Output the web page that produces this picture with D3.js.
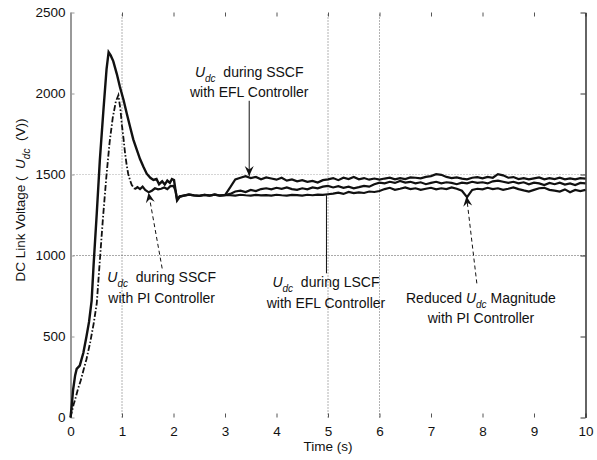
<!DOCTYPE html>
<html><head><meta charset="utf-8">
<script src="https://cdn.jsdelivr.net/npm/d3@7"></script>
<style>body{margin:0;background:#fff}svg{display:block;font-family:"Liberation Sans",Arial,sans-serif}</style>
</head><body><svg id="c" width="597" height="460"></svg>
<script>
// ---------- data ----------
const xTicks = [0,1,2,3,4,5,6,7,8,9,10];
const yTicks = [0,500,1000,1500,2000,2500];
const vGrid = [1,5,6];
const hGrid = [1000,1500];

// start-up transient shared by both EFL cases (t <= 3 s)
const tEFLStart = [0,0.02,0.05,0.09,0.12,0.18,0.25,0.31,0.36,0.41,0.45,0.51,0.57,0.64,0.70,0.74,0.78,0.83,0.90,0.96,1.03,1.09,1.16,1.22,1.29,1.35,1.42,1.48,1.55,1.61,1.67,1.72,1.78,1.83,1.88,1.93,1.97,2.01,2.04,2.07,2.12,2.2,2.3,2.4,2.5,2.6,2.7,2.8,2.9,3.0];
const vEFLStart = [0,60,170,260,300,320,400,500,590,720,950,1260,1590,1900,2150,2255,2235,2200,2120,2040,1960,1880,1790,1715,1650,1595,1545,1505,1480,1466,1472,1440,1458,1438,1462,1448,1472,1466,1400,1340,1362,1370,1376,1371,1368,1374,1370,1376,1370,1373];

// PI controller start-up transient (t <= 3 s)
const tPIStart = [0,0.03,0.06,0.09,0.14,0.2,0.25,0.31,0.38,0.45,0.51,0.57,0.63,0.70,0.76,0.82,0.88,0.93,0.97,1.0,1.03,1.06,1.09,1.12,1.16,1.19,1.25,1.3,1.35,1.4,1.45,1.52,1.58,1.64,1.7,1.76,1.82,1.88,1.94,2.0,2.04,2.07,2.12,2.2,2.3,2.4,2.5,2.6,2.7,2.8,2.9,3.0];
const vPIStart = [0,40,80,110,170,230,290,360,460,580,705,970,1230,1500,1700,1850,1950,1990,1900,1800,1720,1630,1560,1505,1460,1435,1410,1422,1410,1425,1405,1390,1400,1415,1408,1412,1420,1410,1428,1430,1400,1345,1365,1370,1376,1371,1368,1374,1370,1376,1370,1373];

// after t = 3 s
const tPost = [3.0,3.1,3.2,3.3,3.4,3.5,3.6,3.7,3.8,3.9,4.0,4.1,4.2,4.3,4.4,4.5,4.6,4.7,4.8,4.9,5.0,5.1,5.2,5.3,5.4,5.5,5.6,5.7,5.8,5.9,6.0,6.1,6.2,6.3,6.4,6.5,6.6,6.7,6.8,6.9,7.0,7.1,7.2,7.3,7.4,7.5,7.6,7.7,7.8,7.9,8.0,8.1,8.2,8.3,8.4,8.5,8.6,8.7,8.8,8.9,9.0,9.1,9.2,9.3,9.4,9.5,9.6,9.7,9.8,9.9,10.0];
const vEFL_SSCF = [1373,1420,1470,1480,1490,1478,1485,1470,1482,1475,
  1468,1480,1462,1470,1458,1465,1455,1460,1450,1465,
  1470,1478,1465,1480,1472,1485,1470,1478,1468,1475,
  1468,1475,1480,1470,1478,1472,1482,1480,1476,1485,
  1490,1502,1498,1485,1478,1482,1475,1470,1480,1484,
  1476,1485,1480,1502,1495,1480,1484,1472,1478,1470,
  1476,1482,1470,1478,1472,1480,1470,1476,1470,1478,1474];
const vEFL_LSCF = [1373,1380,1395,1400,1392,1405,1398,1410,1415,1408,
  1418,1412,1420,1410,1405,1415,1408,1420,1415,1425,
  1430,1420,1428,1418,1425,1415,1422,1430,1425,1440,
  1450,1445,1455,1448,1460,1450,1455,1445,1452,1440,
  1448,1455,1445,1452,1448,1440,1450,1445,1455,1448,
  1452,1445,1458,1462,1455,1448,1455,1445,1452,1440,
  1450,1445,1435,1448,1440,1450,1438,1445,1435,1448,1445];
const vPI_SSCF = [1373,1372,1370,1375,1372,1370,1374,1371,1373,1370,
  1375,1372,1370,1374,1373,1370,1375,1372,1376,1374,
  1378,1382,1388,1380,1392,1385,1390,1386,1395,1392,
  1398,1410,1418,1405,1412,1420,1410,1415,1405,1412,
  1418,1408,1415,1410,1420,1412,1400,1360,1405,1412,
  1408,1418,1410,1415,1405,1412,1420,1410,1402,1395,
  1405,1415,1418,1405,1400,1395,1408,1390,1405,1398,1405];

// ---------- drawing ----------
const svg = d3.select("#c");
const x = d3.scaleLinear().domain([0,10]).range([70.5,585.5]);
const y = d3.scaleLinear().domain([0,2500]).range([417.5,12.5]);
const FONT = "13.5px";

// grid
svg.append("g").selectAll("line").data(hGrid).join("line")
  .attr("x1", x(0)).attr("x2", x(10)).attr("y1", d=>y(d)).attr("y2", d=>y(d))
  .attr("stroke", d=> d===1500 ? "#aaa" : "#555").attr("stroke-width",1).attr("stroke-dasharray","1,2");
svg.append("g").selectAll("line").data(vGrid).join("line")
  .attr("x1", d=>x(d)).attr("x2", d=>x(d)).attr("y1", y(0)).attr("y2", y(2500))
  .attr("stroke", "#666").attr("stroke-width",1).attr("stroke-dasharray","1,2");

// axes
const gB = svg.append("g").attr("transform",`translate(0,${y(0)})`)
  .call(d3.axisBottom(x).tickValues(xTicks).tickSizeInner(-4).tickSizeOuter(0).tickPadding(9).tickFormat(d3.format("d")));
const gT = svg.append("g").attr("transform",`translate(0,${y(2500)})`)
  .call(d3.axisTop(x).tickValues(xTicks).tickSizeInner(-4).tickSizeOuter(0).tickFormat(""));
const gL = svg.append("g").attr("transform",`translate(${x(0)},0)`)
  .call(d3.axisLeft(y).tickValues(yTicks).tickSizeInner(-4).tickSizeOuter(0).tickPadding(5).tickFormat(d3.format("d")));
const gR = svg.append("g").attr("transform",`translate(${x(10)},0)`)
  .call(d3.axisRight(y).tickValues(yTicks).tickSizeInner(-5).tickSizeOuter(0).tickFormat(""));
[gB,gT].forEach(g=>{g.select(".domain").remove(); g.selectAll(".tick line").attr("stroke","#555");});
gL.select(".domain").attr("stroke","#999").attr("stroke-width",2);
gL.selectAll(".tick line").attr("stroke","#999");
gR.select(".domain").attr("stroke","#111").attr("stroke-width",1.3);
gR.selectAll(".tick line").attr("stroke","#333");
svg.selectAll(".tick text").attr("font-size",FONT).attr("fill","#111").attr("font-family","Liberation Sans, Arial, sans-serif");

// lines
const line = d3.line().x(d=>x(d[0])).y(d=>y(d[1]));
const zip = (t,v)=>t.map((d,i)=>[d,v[i]]);
const eflStart = zip(tEFLStart,vEFLStart);
const piStart = zip(tPIStart,vPIStart);
const piDashed = piStart.filter(d=>d[0]<=1.25);
const piSolid = piStart.filter(d=>d[0]>=1.25);

svg.append("path").attr("d", line(piDashed)).attr("fill","none").attr("stroke","#111")
  .attr("stroke-width",1.8).attr("stroke-dasharray","6,2,1.5,2");
svg.append("path").attr("d", line(piSolid)).attr("fill","none").attr("stroke","#111").attr("stroke-width",2.2);
svg.append("path").attr("d", line(zip(tPost,vPI_SSCF))).attr("fill","none").attr("stroke","#111").attr("stroke-width",2.2);
svg.append("path").attr("d", line(zip(tPost,vEFL_LSCF))).attr("fill","none").attr("stroke","#111").attr("stroke-width",2.2);
svg.append("path").attr("d", line(zip(tPost,vEFL_SSCF))).attr("fill","none").attr("stroke","#111").attr("stroke-width",2.2);
svg.append("path").attr("d", line(eflStart)).attr("fill","none").attr("stroke","#111").attr("stroke-width",2.4);

// annotations
function label(cx, cyc, parts, anchor){
  const t = svg.append("text").attr("x",cx).attr("y",cyc).attr("text-anchor",anchor||"middle")
    .attr("font-size","14px").attr("fill","#111");
  parts.forEach(p=>{
    const s = t.append("tspan").text(p.s);
    if(p.i) s.attr("font-style","italic");
    if(p.sub) s.attr("font-size","10px").attr("dy",5);
    if(p.up) s.attr("dy",-5);
  });
  return t;
}
const U = [{s:"U",i:true},{s:"dc",i:true,sub:true}];
function arrowHead(x1,y1,x2,y2){
  const a = Math.atan2(y2-y1,x2-x1), L=10, W=4.5, N=6.5;
  const bx = x2-L*Math.cos(a), by = y2-L*Math.sin(a);
  const nx = x2-N*Math.cos(a), ny = y2-N*Math.sin(a);
  const px = -Math.sin(a), py = Math.cos(a);
  svg.append("path").attr("d",`M${x2},${y2}L${bx+W*px},${by+W*py}L${nx},${ny}L${bx-W*px},${by-W*py}Z`).attr("fill","#111");
}
function arrow(t1,v1,t2,v2,dashed,head){
  const X1=x(t1),Y1=y(v1),X2=x(t2),Y2=y(v2);
  svg.append("line").attr("x1",X1).attr("y1",Y1).attr("x2",X2).attr("y2",Y2)
    .attr("stroke","#111").attr("stroke-width",1).attr("stroke-dasharray",dashed?"4,3":null);
  if(head) arrowHead(X1,Y1,X2,Y2);
}

// Udc during SSCF with EFL
label(x(3.47), 77, [...U,{s:"\u00a0 during SSCF",up:true}]);
label(x(3.47), 97, [{s:"with EFL Controller"}]);
arrow(3.47,1955,3.47,1490,false,true);

// Udc during SSCF with PI
label(x(1.77), 282, [...U,{s:"\u00a0 during SSCF",up:true}]);
label(x(1.77), 303, [{s:"with PI Controller"}]);
arrow(1.78,920,1.515,1388,true,true);

// Udc during LSCF with EFL
label(x(4.96), 287, [...U,{s:"\u00a0 during LSCF",up:true}]);
label(x(4.96), 308, [{s:"with EFL Controller"}]);
arrow(4.97,890,4.97,1372,false,false);

// Reduced Udc Magnitude with PI
label(x(7.97), 303, [{s:"Reduced "},...U,{s:" Magnitude",up:true}]);
label(x(7.97), 323, [{s:"with PI Controller"}]);
arrow(7.89,828,7.69,1366,true,true);

// axis titles
svg.append("text").attr("x",328).attr("y",451).attr("text-anchor","middle")
  .attr("font-size","13.5px").attr("fill","#111").text("Time (s)");
const yl = svg.append("text").attr("transform","translate(25,200) rotate(-90)")
  .attr("text-anchor","middle").attr("font-size","13.5px").attr("fill","#111");
yl.append("tspan").text("DC Link Voltage (\u00a0 ");
yl.append("tspan").attr("font-style","italic").text("U");
yl.append("tspan").attr("font-style","italic").attr("font-size","10px").attr("dy",5).text("dc");
yl.append("tspan").attr("dy",-5).text("\u00a0 (V))");
</script></body></html>
